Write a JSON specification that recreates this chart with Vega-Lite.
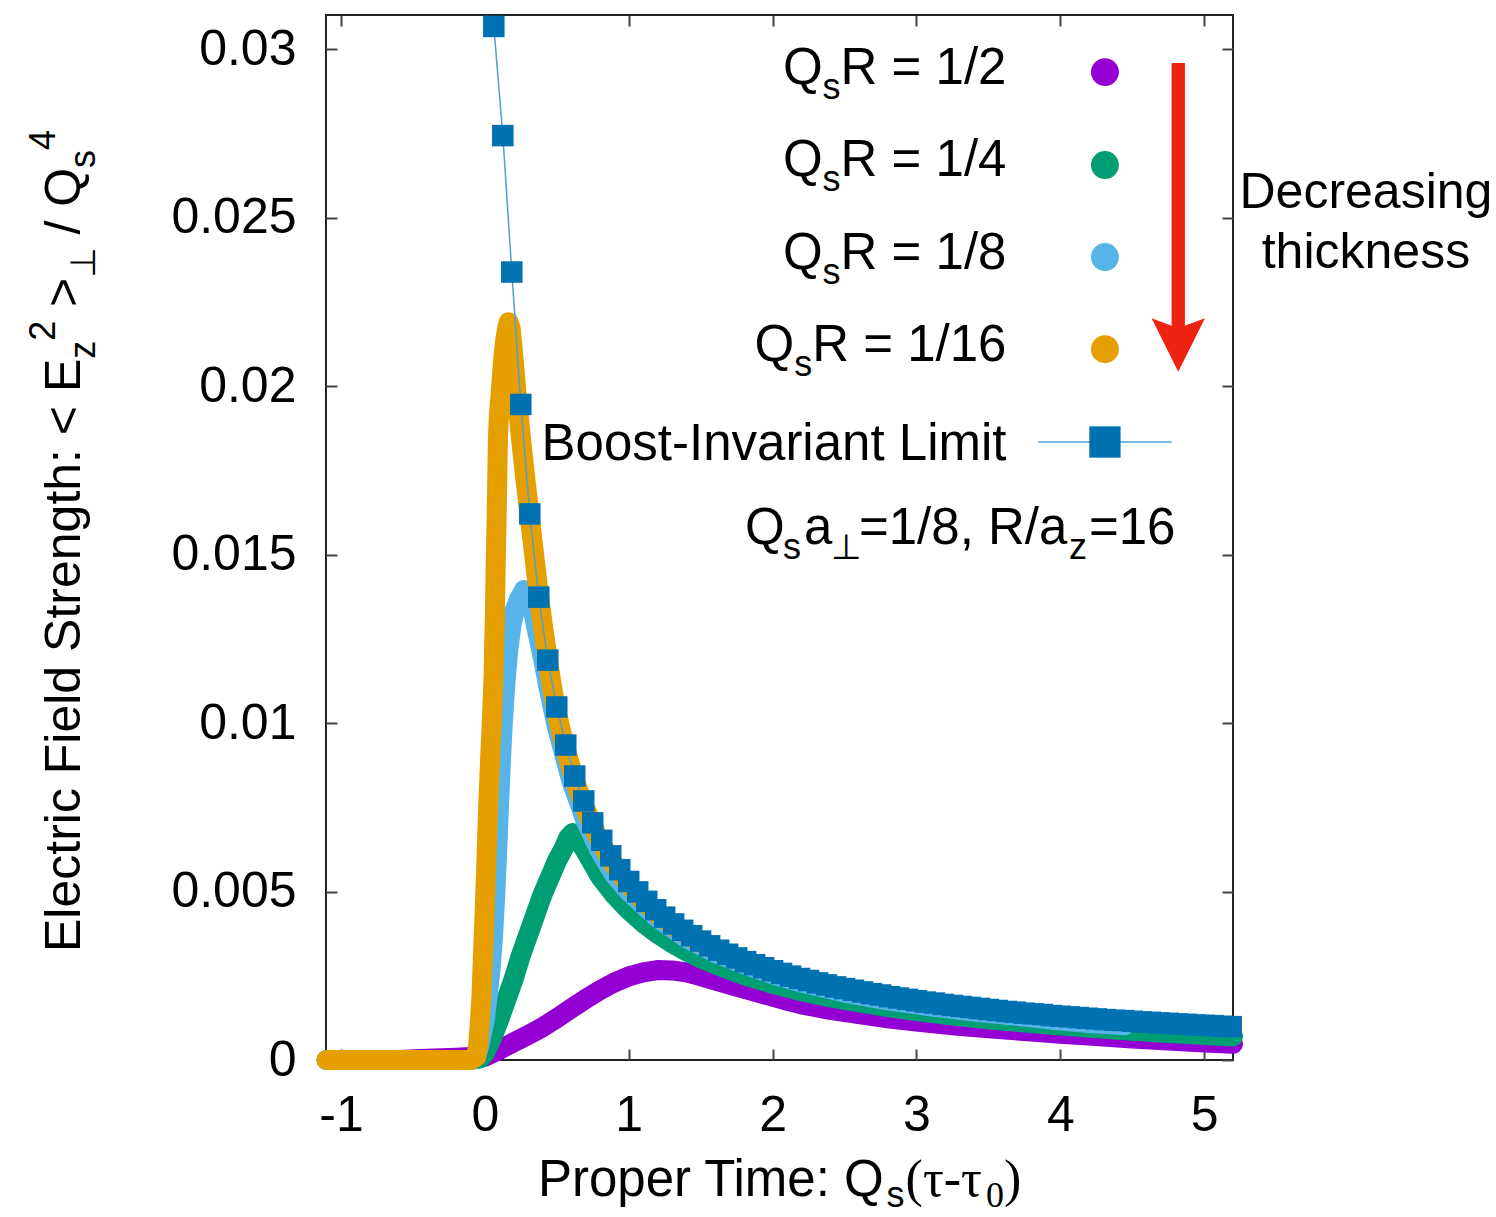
{
"$schema": "https://vega.github.io/schema/vega-lite/v6.json",
"width": 907, "height": 1045,
"autosize": {"type": "none"},
"padding": {"left": 326, "top": 15, "right": 263, "bottom": 157},
"background": "white",
"config": {
  "view": {"stroke": "#222", "strokeWidth": 2},
  "axis": {"domain": false, "grid": false, "tickColor": "#444", "tickWidth": 2, "tickSize": -11, "labelFont": "Liberation Sans", "labelFontSize": 50, "labelColor": "#000", "labelFlush": false, "labelOverlap": false}
},
"datasets": {
  "one": [{}],
  "purple": [{"t":-1.1,"v":0},{"t":-0.6,"v":0},{"t":-0.4,"v":0.00004},{"t":-0.2,"v":0.00007},{"t":-0.1,"v":0.00009},{"t":0,"v":0.0001},{"t":0.1,"v":0.0003},{"t":0.2,"v":0.00052},{"t":0.3,"v":0.00074},{"t":0.4,"v":0.00097},{"t":0.5,"v":0.00124},{"t":0.6,"v":0.00153},{"t":0.7,"v":0.00181},{"t":0.8,"v":0.00207},{"t":0.9,"v":0.0023},{"t":1.0,"v":0.00248},{"t":1.1,"v":0.0026},{"t":1.2,"v":0.00267},{"t":1.3,"v":0.00266},{"t":1.4,"v":0.0026},{"t":1.5,"v":0.00249},{"t":1.6,"v":0.00236},{"t":1.7,"v":0.00224},{"t":1.8,"v":0.00212},{"t":1.9,"v":0.002},{"t":2.0,"v":0.00188},{"t":2.1,"v":0.00176},{"t":2.2,"v":0.00165},{"t":2.4,"v":0.00149},{"t":2.6,"v":0.00136},{"t":2.8,"v":0.00124},{"t":3.0,"v":0.00114},{"t":3.25,"v":0.00103},{"t":3.5,"v":0.00094},{"t":3.75,"v":0.00086},{"t":4.0,"v":0.00078},{"t":4.25,"v":0.00071},{"t":4.5,"v":0.00064},{"t":4.75,"v":0.00058},{"t":5.0,"v":0.00052},{"t":5.2,"v":0.00048}],
  "green": [{"t":-1.1,"v":0},{"t":-0.1,"v":0},{"t":-0.03,"v":0.00005},{"t":0,"v":0.0002},{"t":0.05,"v":0.00065},{"t":0.1,"v":0.0012},{"t":0.15,"v":0.0018},{"t":0.2,"v":0.0024},{"t":0.25,"v":0.0031},{"t":0.3,"v":0.0037},{"t":0.35,"v":0.0043},{"t":0.4,"v":0.0049},{"t":0.45,"v":0.0054},{"t":0.5,"v":0.0059},{"t":0.55,"v":0.0063},{"t":0.58,"v":0.0066},{"t":0.61,"v":0.00674},{"t":0.64,"v":0.0066},{"t":0.7,"v":0.0062},{"t":0.8,"v":0.00545},{"t":0.9,"v":0.0049},{"t":1.0,"v":0.00445},{"t":1.1,"v":0.00407},{"t":1.2,"v":0.00375},{"t":1.3,"v":0.00347},{"t":1.4,"v":0.00323},{"t":1.5,"v":0.00302},{"t":1.6,"v":0.00284},{"t":1.8,"v":0.00252},{"t":2.0,"v":0.00226},{"t":2.2,"v":0.00204},{"t":2.4,"v":0.00186},{"t":2.6,"v":0.00171},{"t":2.8,"v":0.00157},{"t":3.0,"v":0.00145},{"t":3.25,"v":0.00132},{"t":3.5,"v":0.00121},{"t":3.75,"v":0.00111},{"t":4.0,"v":0.00102},{"t":4.25,"v":0.00094},{"t":4.5,"v":0.00087},{"t":4.75,"v":0.0008},{"t":5.0,"v":0.00074},{"t":5.2,"v":0.0007}],
  "lightblue": [{"t":-1.1,"v":0},{"t":-0.1,"v":0},{"t":-0.06,"v":0.0001},{"t":-0.04,"v":0.0004},{"t":-0.02,"v":0.0008},{"t":0,"v":0.0012},{"t":0.02,"v":0.0019},{"t":0.04,"v":0.0027},{"t":0.056,"v":0.0036},{"t":0.07,"v":0.0047},{"t":0.084,"v":0.006},{"t":0.098,"v":0.0075},{"t":0.112,"v":0.0089},{"t":0.126,"v":0.0101},{"t":0.143,"v":0.0112},{"t":0.161,"v":0.0121},{"t":0.185,"v":0.0129},{"t":0.209,"v":0.01336},{"t":0.24,"v":0.0137},{"t":0.272,"v":0.01395},{"t":0.3,"v":0.0139},{"t":0.33,"v":0.01345},{"t":0.36,"v":0.0128},{"t":0.4,"v":0.012},{"t":0.45,"v":0.0109},{"t":0.5,"v":0.0099},{"t":0.55,"v":0.0091},{"t":0.6,"v":0.0083},{"t":0.7,"v":0.0071},{"t":0.8,"v":0.0062},{"t":0.9,"v":0.0055},{"t":1.0,"v":0.005},{"t":1.1,"v":0.0046},{"t":1.2,"v":0.00422},{"t":1.4,"v":0.00362},{"t":1.6,"v":0.00318},{"t":1.8,"v":0.00284},{"t":2.0,"v":0.00254},{"t":2.2,"v":0.0023},{"t":2.5,"v":0.002},{"t":2.8,"v":0.00177},{"t":3.1,"v":0.00159},{"t":3.4,"v":0.00144},{"t":3.7,"v":0.00131},{"t":4.0,"v":0.00117},{"t":4.2,"v":0.0011},{"t":4.45,"v":0.00103}],
  "orange": [{"t":-1.1,"v":0},{"t":-1.0,"v":0},{"t":-0.9,"v":0},{"t":-0.8,"v":0},{"t":-0.7,"v":0},{"t":-0.6,"v":0},{"t":-0.5,"v":0},{"t":-0.4,"v":0},{"t":-0.3,"v":0},{"t":-0.2,"v":0},{"t":-0.1,"v":0},{"t":-0.06,"v":0.0001},{"t":-0.046,"v":0.00045},{"t":-0.034,"v":0.00119},{"t":-0.023,"v":0.00193},{"t":-0.017,"v":0.00267},{"t":-0.01,"v":0.00341},{"t":-0.003,"v":0.00422},{"t":0.004,"v":0.00505},{"t":0.011,"v":0.00588},{"t":0.017,"v":0.00674},{"t":0.024,"v":0.0076},{"t":0.032,"v":0.00846},{"t":0.04,"v":0.00929},{"t":0.049,"v":0.01009},{"t":0.056,"v":0.01083},{"t":0.061,"v":0.01143},{"t":0.065,"v":0.01238},{"t":0.07,"v":0.01321},{"t":0.073,"v":0.01404},{"t":0.076,"v":0.01484},{"t":0.08,"v":0.01564},{"t":0.083,"v":0.01639},{"t":0.086,"v":0.0171},{"t":0.088,"v":0.01775},{"t":0.091,"v":0.01846},{"t":0.098,"v":0.01915},{"t":0.109,"v":0.01974},{"t":0.119,"v":0.02033},{"t":0.129,"v":0.02087},{"t":0.14,"v":0.02131},{"t":0.152,"v":0.02165},{"t":0.165,"v":0.0219},{"t":0.18,"v":0.0217},{"t":0.2,"v":0.0208},{"t":0.22,"v":0.0198},{"t":0.25,"v":0.0185},{"t":0.28,"v":0.0173},{"t":0.31,"v":0.0162},{"t":0.34,"v":0.0151},{"t":0.37,"v":0.014},{"t":0.4,"v":0.013},{"t":0.44,"v":0.0118},{"t":0.47,"v":0.011},{"t":0.5,"v":0.0103},{"t":0.55,"v":0.0094},{"t":0.6,"v":0.00865},{"t":0.65,"v":0.008},{"t":0.7,"v":0.00745},{"t":0.75,"v":0.00695},{"t":0.8,"v":0.0065},{"t":0.9,"v":0.00578},{"t":1.0,"v":0.0052},{"t":1.1,"v":0.00473},{"t":1.2,"v":0.00434},{"t":1.3,"v":0.00401},{"t":1.4,"v":0.00373},{"t":1.5,"v":0.00348},{"t":1.6,"v":0.00327},{"t":1.7,"v":0.00308},{"t":1.8,"v":0.00291},{"t":1.9,"v":0.00276},{"t":2.0,"v":0.00262},{"t":2.1,"v":0.0025},{"t":2.17,"v":0.00242}],
  "boost": [{"t":0.0625,"v":0.03068},{"t":0.125,"v":0.02744},{"t":0.1875,"v":0.02339},{"t":0.25,"v":0.01946},{"t":0.3125,"v":0.01621},{"t":0.375,"v":0.01374},{"t":0.4375,"v":0.01187},{"t":0.5,"v":0.01048},{"t":0.5625,"v":0.00935},{"t":0.625,"v":0.00843},{"t":0.6875,"v":0.00769},{"t":0.75,"v":0.00704},{"t":0.8125,"v":0.00652},{"t":0.875,"v":0.00606},{"t":0.9375,"v":0.00565},{"t":1.0,"v":0.0053},{"t":1.0625,"v":0.00499},{"t":1.125,"v":0.00471},{"t":1.1875,"v":0.00446},{"t":1.25,"v":0.00424},{"t":1.3125,"v":0.00404},{"t":1.375,"v":0.00385},{"t":1.4375,"v":0.00369},{"t":1.5,"v":0.00353},{"t":1.5625,"v":0.00339},{"t":1.625,"v":0.00326},{"t":1.6875,"v":0.00314},{"t":1.75,"v":0.00303},{"t":1.8125,"v":0.00292},{"t":1.875,"v":0.00283},{"t":1.9375,"v":0.00274},{"t":2.0,"v":0.00265},{"t":2.0625,"v":0.00257},{"t":2.125,"v":0.00249},{"t":2.1875,"v":0.00242},{"t":2.25,"v":0.00236},{"t":2.3125,"v":0.00229},{"t":2.375,"v":0.00223},{"t":2.4375,"v":0.00217},{"t":2.5,"v":0.00212},{"t":2.5625,"v":0.00207},{"t":2.625,"v":0.00202},{"t":2.6875,"v":0.00197},{"t":2.75,"v":0.00193},{"t":2.8125,"v":0.00188},{"t":2.875,"v":0.00184},{"t":2.9375,"v":0.0018},{"t":3.0,"v":0.00176},{"t":3.0625,"v":0.00172},{"t":3.125,"v":0.00169},{"t":3.1875,"v":0.00165},{"t":3.25,"v":0.00162},{"t":3.3125,"v":0.00159},{"t":3.375,"v":0.00156},{"t":3.4375,"v":0.00153},{"t":3.5,"v":0.0015},{"t":3.5625,"v":0.00147},{"t":3.625,"v":0.00144},{"t":3.6875,"v":0.00142},{"t":3.75,"v":0.00139},{"t":3.8125,"v":0.00137},{"t":3.875,"v":0.00135},{"t":3.9375,"v":0.00132},{"t":4.0,"v":0.0013},{"t":4.0625,"v":0.00128},{"t":4.125,"v":0.00126},{"t":4.1875,"v":0.00124},{"t":4.25,"v":0.00122},{"t":4.3125,"v":0.0012},{"t":4.375,"v":0.00118},{"t":4.4375,"v":0.00117},{"t":4.5,"v":0.00115},{"t":4.5625,"v":0.00113},{"t":4.625,"v":0.00112},{"t":4.6875,"v":0.0011},{"t":4.75,"v":0.00109},{"t":4.8125,"v":0.00107},{"t":4.875,"v":0.00106},{"t":4.9375,"v":0.00104},{"t":5.0,"v":0.00103},{"t":5.0625,"v":0.00102},{"t":5.125,"v":0.001},{"t":5.1875,"v":0.00099}]
},
"resolve": {"axis": {"x": "independent", "y": "independent"}},
"layer": [
  {"data": {"name": "boost"}, "mark": {"type": "point", "opacity": 0},
   "encoding": {
     "x": {"field": "t", "type": "quantitative", "scale": {"domain": [-1.104, 5.2], "nice": false, "zero": false},
           "axis": {"orient": "bottom", "values": [-1,0,1,2,3,4,5], "labelExpr": "datum.value < 0 ? '-' + abs(datum.value) : '' + datum.value", "labelPadding": 41, "title": null}},
     "y": {"field": "v", "type": "quantitative", "scale": {"domain": [0, 0.03102], "nice": false, "zero": false},
           "axis": {"orient": "left", "values": [0,0.005,0.01,0.015,0.02,0.025,0.03], "format": "~g", "labelPadding": 41, "title": null}}}},
  {"data": {"name": "boost"}, "mark": {"type": "point", "opacity": 0},
   "encoding": {
     "x": {"field": "t", "type": "quantitative", "scale": {"domain": [-1.104, 5.2], "nice": false, "zero": false},
           "axis": {"orient": "top", "values": [-1,0,1,2,3,4,5], "labels": false, "title": null}},
     "y": {"field": "v", "type": "quantitative", "scale": {"domain": [0, 0.03102], "nice": false, "zero": false},
           "axis": {"orient": "right", "values": [0,0.005,0.01,0.015,0.02,0.025,0.03], "labels": false, "title": null}}}},
  {"layer": [
    {"data": {"name": "purple"}, "mark": {"type": "line", "color": "#9400D3", "strokeWidth": 20, "strokeCap": "round", "strokeJoin": "round"},
     "encoding": {"x": {"field": "t", "type": "quantitative", "axis": null}, "y": {"field": "v", "type": "quantitative", "axis": null}}},
    {"data": {"name": "purple"}, "mark": {"type": "point", "shape": "circle", "filled": true, "size": 360, "color": "#9400D3", "opacity": 1},
     "encoding": {"x": {"field": "t", "type": "quantitative", "axis": null}, "y": {"field": "v", "type": "quantitative", "axis": null}}},
    {"data": {"name": "green"}, "mark": {"type": "line", "color": "#009E73", "strokeWidth": 20, "strokeCap": "round", "strokeJoin": "round"},
     "encoding": {"x": {"field": "t", "type": "quantitative", "axis": null}, "y": {"field": "v", "type": "quantitative", "axis": null}}},
    {"data": {"name": "green"}, "mark": {"type": "point", "shape": "circle", "filled": true, "size": 360, "color": "#009E73", "opacity": 1},
     "encoding": {"x": {"field": "t", "type": "quantitative", "axis": null}, "y": {"field": "v", "type": "quantitative", "axis": null}}},
    {"data": {"name": "lightblue"}, "mark": {"type": "line", "color": "#56B4E9", "strokeWidth": 20, "strokeCap": "round", "strokeJoin": "round"},
     "encoding": {"x": {"field": "t", "type": "quantitative", "axis": null}, "y": {"field": "v", "type": "quantitative", "axis": null}}},
    {"data": {"name": "lightblue"}, "mark": {"type": "point", "shape": "circle", "filled": true, "size": 360, "color": "#56B4E9", "opacity": 1},
     "encoding": {"x": {"field": "t", "type": "quantitative", "axis": null}, "y": {"field": "v", "type": "quantitative", "axis": null}}},
    {"data": {"name": "orange"}, "mark": {"type": "line", "color": "#E69F00", "strokeWidth": 20, "strokeCap": "round", "strokeJoin": "round"},
     "encoding": {"x": {"field": "t", "type": "quantitative", "axis": null}, "y": {"field": "v", "type": "quantitative", "axis": null}}},
    {"data": {"name": "orange"}, "mark": {"type": "point", "shape": "circle", "filled": true, "size": 360, "color": "#E69F00", "opacity": 1},
     "encoding": {"x": {"field": "t", "type": "quantitative", "axis": null}, "y": {"field": "v", "type": "quantitative", "axis": null}}},
    {"data": {"name": "boost"}, "mark": {"type": "line", "color": "#4f9fd3", "strokeWidth": 1.5},
     "encoding": {"x": {"field": "t", "type": "quantitative", "axis": null}, "y": {"field": "v", "type": "quantitative", "axis": null}}},
    {"data": {"name": "boost"}, "mark": {"type": "point", "shape": "square", "filled": true, "size": 462, "color": "#0072B2", "opacity": 1},
     "encoding": {"x": {"field": "t", "type": "quantitative", "axis": null}, "y": {"field": "v", "type": "quantitative", "axis": null}}},

    {"data": {"name": "one"}, "mark": {"type": "text", "text": "R = 1/2", "font": "Liberation Sans", "fontSize": 51, "align": "right", "baseline": "alphabetic", "color": "#000"},
     "encoding": {"x": {"datum": 3.6254, "type": "quantitative", "axis": null}, "y": {"datum": 0.028972, "type": "quantitative", "axis": null}}},
    {"data": {"name": "one"}, "mark": {"type": "text", "text": "s", "font": "Liberation Sans", "fontSize": 36, "align": "right", "baseline": "alphabetic", "color": "#000", "dx": -165.9, "dy": 15},
     "encoding": {"x": {"datum": 3.6254, "type": "quantitative", "axis": null}, "y": {"datum": 0.028972, "type": "quantitative", "axis": null}}},
    {"data": {"name": "one"}, "mark": {"type": "text", "text": "Q", "font": "Liberation Sans", "fontSize": 51, "align": "right", "baseline": "alphabetic", "color": "#000", "dx": -183.9},
     "encoding": {"x": {"datum": 3.6254, "type": "quantitative", "axis": null}, "y": {"datum": 0.028972, "type": "quantitative", "axis": null}}},
    {"data": {"name": "one"}, "mark": {"type": "point", "shape": "circle", "filled": true, "size": 779, "color": "#9400D3", "opacity": 1},
     "encoding": {"x": {"datum": 4.31, "type": "quantitative", "axis": null}, "y": {"datum": 0.029325, "type": "quantitative", "axis": null}}},

    {"data": {"name": "one"}, "mark": {"type": "text", "text": "R = 1/4", "font": "Liberation Sans", "fontSize": 51, "align": "right", "baseline": "alphabetic", "color": "#000"},
     "encoding": {"x": {"datum": 3.6254, "type": "quantitative", "axis": null}, "y": {"datum": 0.026229, "type": "quantitative", "axis": null}}},
    {"data": {"name": "one"}, "mark": {"type": "text", "text": "s", "font": "Liberation Sans", "fontSize": 36, "align": "right", "baseline": "alphabetic", "color": "#000", "dx": -165.9, "dy": 15},
     "encoding": {"x": {"datum": 3.6254, "type": "quantitative", "axis": null}, "y": {"datum": 0.026229, "type": "quantitative", "axis": null}}},
    {"data": {"name": "one"}, "mark": {"type": "text", "text": "Q", "font": "Liberation Sans", "fontSize": 51, "align": "right", "baseline": "alphabetic", "color": "#000", "dx": -183.9},
     "encoding": {"x": {"datum": 3.6254, "type": "quantitative", "axis": null}, "y": {"datum": 0.026229, "type": "quantitative", "axis": null}}},
    {"data": {"name": "one"}, "mark": {"type": "point", "shape": "circle", "filled": true, "size": 779, "color": "#009E73", "opacity": 1},
     "encoding": {"x": {"datum": 4.31, "type": "quantitative", "axis": null}, "y": {"datum": 0.026567, "type": "quantitative", "axis": null}}},

    {"data": {"name": "one"}, "mark": {"type": "text", "text": "R = 1/8", "font": "Liberation Sans", "fontSize": 51, "align": "right", "baseline": "alphabetic", "color": "#000"},
     "encoding": {"x": {"datum": 3.6254, "type": "quantitative", "axis": null}, "y": {"datum": 0.023486, "type": "quantitative", "axis": null}}},
    {"data": {"name": "one"}, "mark": {"type": "text", "text": "s", "font": "Liberation Sans", "fontSize": 36, "align": "right", "baseline": "alphabetic", "color": "#000", "dx": -165.9, "dy": 15},
     "encoding": {"x": {"datum": 3.6254, "type": "quantitative", "axis": null}, "y": {"datum": 0.023486, "type": "quantitative", "axis": null}}},
    {"data": {"name": "one"}, "mark": {"type": "text", "text": "Q", "font": "Liberation Sans", "fontSize": 51, "align": "right", "baseline": "alphabetic", "color": "#000", "dx": -183.9},
     "encoding": {"x": {"datum": 3.6254, "type": "quantitative", "axis": null}, "y": {"datum": 0.023486, "type": "quantitative", "axis": null}}},
    {"data": {"name": "one"}, "mark": {"type": "point", "shape": "circle", "filled": true, "size": 779, "color": "#56B4E9", "opacity": 1},
     "encoding": {"x": {"datum": 4.31, "type": "quantitative", "axis": null}, "y": {"datum": 0.023836, "type": "quantitative", "axis": null}}},

    {"data": {"name": "one"}, "mark": {"type": "text", "text": "R = 1/16", "font": "Liberation Sans", "fontSize": 51, "align": "right", "baseline": "alphabetic", "color": "#000"},
     "encoding": {"x": {"datum": 3.6254, "type": "quantitative", "axis": null}, "y": {"datum": 0.020743, "type": "quantitative", "axis": null}}},
    {"data": {"name": "one"}, "mark": {"type": "text", "text": "s", "font": "Liberation Sans", "fontSize": 36, "align": "right", "baseline": "alphabetic", "color": "#000", "dx": -194.2, "dy": 15},
     "encoding": {"x": {"datum": 3.6254, "type": "quantitative", "axis": null}, "y": {"datum": 0.020743, "type": "quantitative", "axis": null}}},
    {"data": {"name": "one"}, "mark": {"type": "text", "text": "Q", "font": "Liberation Sans", "fontSize": 51, "align": "right", "baseline": "alphabetic", "color": "#000", "dx": -212.2},
     "encoding": {"x": {"datum": 3.6254, "type": "quantitative", "axis": null}, "y": {"datum": 0.020743, "type": "quantitative", "axis": null}}},
    {"data": {"name": "one"}, "mark": {"type": "point", "shape": "circle", "filled": true, "size": 779, "color": "#E69F00", "opacity": 1},
     "encoding": {"x": {"datum": 4.31, "type": "quantitative", "axis": null}, "y": {"datum": 0.021099, "type": "quantitative", "axis": null}}},

    {"data": {"name": "one"}, "mark": {"type": "text", "text": "Boost-Invariant Limit", "font": "Liberation Sans", "fontSize": 51, "align": "right", "baseline": "alphabetic", "color": "#000"},
     "encoding": {"x": {"datum": 3.6254, "type": "quantitative", "axis": null}, "y": {"datum": 0.017819, "type": "quantitative", "axis": null}}},
    {"data": {"name": "one"}, "mark": {"type": "rule", "color": "#4f9fd3", "strokeWidth": 1.5},
     "encoding": {"x": {"datum": 3.8466, "type": "quantitative", "axis": null}, "x2": {"datum": 4.7736}, "y": {"datum": 0.018345, "type": "quantitative", "axis": null}}},
    {"data": {"name": "one"}, "mark": {"type": "point", "shape": "square", "filled": true, "size": 980, "color": "#0072B2", "opacity": 1},
     "encoding": {"x": {"datum": 4.31, "type": "quantitative", "axis": null}, "y": {"datum": 0.018345, "type": "quantitative", "axis": null}}},

    {"data": {"name": "one"}, "mark": {"type": "text", "text": "Q", "font": "Liberation Sans", "fontSize": 51, "align": "left", "baseline": "alphabetic", "color": "#000"},
     "encoding": {"x": {"datum": 1.8079, "type": "quantitative", "axis": null}, "y": {"datum": 0.015317, "type": "quantitative", "axis": null}}},
    {"data": {"name": "one"}, "mark": {"type": "text", "text": "s", "font": "Liberation Sans", "fontSize": 36, "align": "left", "baseline": "alphabetic", "color": "#000", "dx": 38, "dy": 15},
     "encoding": {"x": {"datum": 1.8079, "type": "quantitative", "axis": null}, "y": {"datum": 0.015317, "type": "quantitative", "axis": null}}},
    {"data": {"name": "one"}, "mark": {"type": "text", "text": "a", "font": "Liberation Sans", "fontSize": 51, "align": "left", "baseline": "alphabetic", "color": "#000", "dx": 59},
     "encoding": {"x": {"datum": 1.8079, "type": "quantitative", "axis": null}, "y": {"datum": 0.015317, "type": "quantitative", "axis": null}}},
    {"data": {"name": "one"}, "mark": {"type": "text", "text": "⊥", "font": "DejaVu Sans", "fontSize": 35, "align": "left", "baseline": "alphabetic", "color": "#000", "dx": 86, "dy": 15},
     "encoding": {"x": {"datum": 1.8079, "type": "quantitative", "axis": null}, "y": {"datum": 0.015317, "type": "quantitative", "axis": null}}},
    {"data": {"name": "one"}, "mark": {"type": "text", "text": "=1/8, R/a", "font": "Liberation Sans", "fontSize": 51, "align": "left", "baseline": "alphabetic", "color": "#000", "dx": 114},
     "encoding": {"x": {"datum": 1.8079, "type": "quantitative", "axis": null}, "y": {"datum": 0.015317, "type": "quantitative", "axis": null}}},
    {"data": {"name": "one"}, "mark": {"type": "text", "text": "z", "font": "Liberation Sans", "fontSize": 36, "align": "left", "baseline": "alphabetic", "color": "#000", "dx": 324, "dy": 15},
     "encoding": {"x": {"datum": 1.8079, "type": "quantitative", "axis": null}, "y": {"datum": 0.015317, "type": "quantitative", "axis": null}}},
    {"data": {"name": "one"}, "mark": {"type": "text", "text": "=16", "font": "Liberation Sans", "fontSize": 51, "align": "left", "baseline": "alphabetic", "color": "#000", "dx": 344},
     "encoding": {"x": {"datum": 1.8079, "type": "quantitative", "axis": null}, "y": {"datum": 0.015317, "type": "quantitative", "axis": null}}},

    {"data": {"name": "one"}, "mark": {"type": "rule", "color": "#EE2211", "strokeWidth": 13.3, "strokeCap": "butt"},
     "encoding": {"x": {"datum": 4.8195, "type": "quantitative", "axis": null}, "y": {"datum": 0.029594, "type": "quantitative", "axis": null}, "y2": {"datum": 0.0215}}},
    {"data": {"name": "one"}, "mark": {"type": "point", "shape": "M-1,-1L0,-0.625L1,-1L0,1Z", "filled": true, "size": 2841, "color": "#EE2211", "opacity": 1},
     "encoding": {"x": {"datum": 4.8195, "type": "quantitative", "axis": null}, "y": {"datum": 0.021224, "type": "quantitative", "axis": null}}},
    {"data": {"name": "one"}, "mark": {"type": "text", "text": "Decreasing", "font": "Liberation Sans", "fontSize": 50, "align": "center", "baseline": "alphabetic", "color": "#000"},
     "encoding": {"x": {"datum": 6.124, "type": "quantitative", "axis": null}, "y": {"datum": 0.025291, "type": "quantitative", "axis": null}}},
    {"data": {"name": "one"}, "mark": {"type": "text", "text": "thickness", "font": "Liberation Sans", "fontSize": 50, "align": "center", "baseline": "alphabetic", "color": "#000"},
     "encoding": {"x": {"datum": 6.124, "type": "quantitative", "axis": null}, "y": {"datum": 0.02351, "type": "quantitative", "axis": null}}},

    {"data": {"name": "one"}, "mark": {"type": "text", "text": "Proper Time: Q", "font": "Liberation Sans", "fontSize": 51, "align": "left", "baseline": "alphabetic", "color": "#000"},
     "encoding": {"x": {"datum": 0.3692, "type": "quantitative", "axis": null}, "y": {"datum": -0.004037, "type": "quantitative", "axis": null}}},
    {"data": {"name": "one"}, "mark": {"type": "text", "text": "s", "font": "Liberation Sans", "fontSize": 36, "align": "left", "baseline": "alphabetic", "color": "#000", "dx": 348.6, "dy": 11},
     "encoding": {"x": {"datum": 0.3692, "type": "quantitative", "axis": null}, "y": {"datum": -0.004037, "type": "quantitative", "axis": null}}},
    {"data": {"name": "one"}, "mark": {"type": "text", "text": "(τ-τ", "font": "Liberation Serif", "fontSize": 52, "align": "left", "baseline": "alphabetic", "color": "#000", "dx": 367.6},
     "encoding": {"x": {"datum": 0.3692, "type": "quantitative", "axis": null}, "y": {"datum": -0.004037, "type": "quantitative", "axis": null}}},
    {"data": {"name": "one"}, "mark": {"type": "text", "text": "0", "font": "Liberation Serif", "fontSize": 36, "align": "left", "baseline": "alphabetic", "color": "#000", "dx": 448, "dy": 11},
     "encoding": {"x": {"datum": 0.3692, "type": "quantitative", "axis": null}, "y": {"datum": -0.004037, "type": "quantitative", "axis": null}}},
    {"data": {"name": "one"}, "mark": {"type": "text", "text": ")", "font": "Liberation Serif", "fontSize": 52, "align": "left", "baseline": "alphabetic", "color": "#000", "dx": 466},
     "encoding": {"x": {"datum": 0.3692, "type": "quantitative", "axis": null}, "y": {"datum": -0.004037, "type": "quantitative", "axis": null}}},

    {"data": {"name": "one"}, "mark": {"type": "text", "text": "Electric Field Strength: < E", "font": "Liberation Sans", "fontSize": 50, "angle": 270, "align": "left", "baseline": "alphabetic", "color": "#000"},
     "encoding": {"x": {"datum": -2.81401, "type": "quantitative", "axis": null}, "y": {"datum": 0.0032059, "type": "quantitative", "axis": null}}},
    {"data": {"name": "one"}, "mark": {"type": "text", "text": "z", "font": "Liberation Sans", "fontSize": 36, "angle": 270, "align": "left", "baseline": "alphabetic", "color": "#000", "dx": 593.3, "dy": 15},
     "encoding": {"x": {"datum": -2.81401, "type": "quantitative", "axis": null}, "y": {"datum": 0.0032059, "type": "quantitative", "axis": null}}},
    {"data": {"name": "one"}, "mark": {"type": "text", "text": "2", "font": "Liberation Sans", "fontSize": 36, "angle": 270, "align": "left", "baseline": "alphabetic", "color": "#000", "dx": 611.3, "dy": -25},
     "encoding": {"x": {"datum": -2.81401, "type": "quantitative", "axis": null}, "y": {"datum": 0.0032059, "type": "quantitative", "axis": null}}},
    {"data": {"name": "one"}, "mark": {"type": "text", "text": ">", "font": "Liberation Sans", "fontSize": 50, "angle": 270, "align": "left", "baseline": "alphabetic", "color": "#000", "dx": 645},
     "encoding": {"x": {"datum": -2.81401, "type": "quantitative", "axis": null}, "y": {"datum": 0.0032059, "type": "quantitative", "axis": null}}},
    {"data": {"name": "one"}, "mark": {"type": "text", "text": "⊥", "font": "DejaVu Sans", "fontSize": 35, "angle": 270, "align": "left", "baseline": "alphabetic", "color": "#000", "dx": 674.2, "dy": 15},
     "encoding": {"x": {"datum": -2.81401, "type": "quantitative", "axis": null}, "y": {"datum": 0.0032059, "type": "quantitative", "axis": null}}},
    {"data": {"name": "one"}, "mark": {"type": "text", "text": "/ Q", "font": "Liberation Sans", "fontSize": 50, "angle": 270, "align": "left", "baseline": "alphabetic", "color": "#000", "dx": 717.4},
     "encoding": {"x": {"datum": -2.81401, "type": "quantitative", "axis": null}, "y": {"datum": 0.0032059, "type": "quantitative", "axis": null}}},
    {"data": {"name": "one"}, "mark": {"type": "text", "text": "s", "font": "Liberation Sans", "fontSize": 36, "angle": 270, "align": "left", "baseline": "alphabetic", "color": "#000", "dx": 784.1, "dy": 15},
     "encoding": {"x": {"datum": -2.81401, "type": "quantitative", "axis": null}, "y": {"datum": 0.0032059, "type": "quantitative", "axis": null}}},
    {"data": {"name": "one"}, "mark": {"type": "text", "text": "4", "font": "Liberation Sans", "fontSize": 36, "angle": 270, "align": "left", "baseline": "alphabetic", "color": "#000", "dx": 802.1, "dy": -25},
     "encoding": {"x": {"datum": -2.81401, "type": "quantitative", "axis": null}, "y": {"datum": 0.0032059, "type": "quantitative", "axis": null}}}
  ]}
]
}
